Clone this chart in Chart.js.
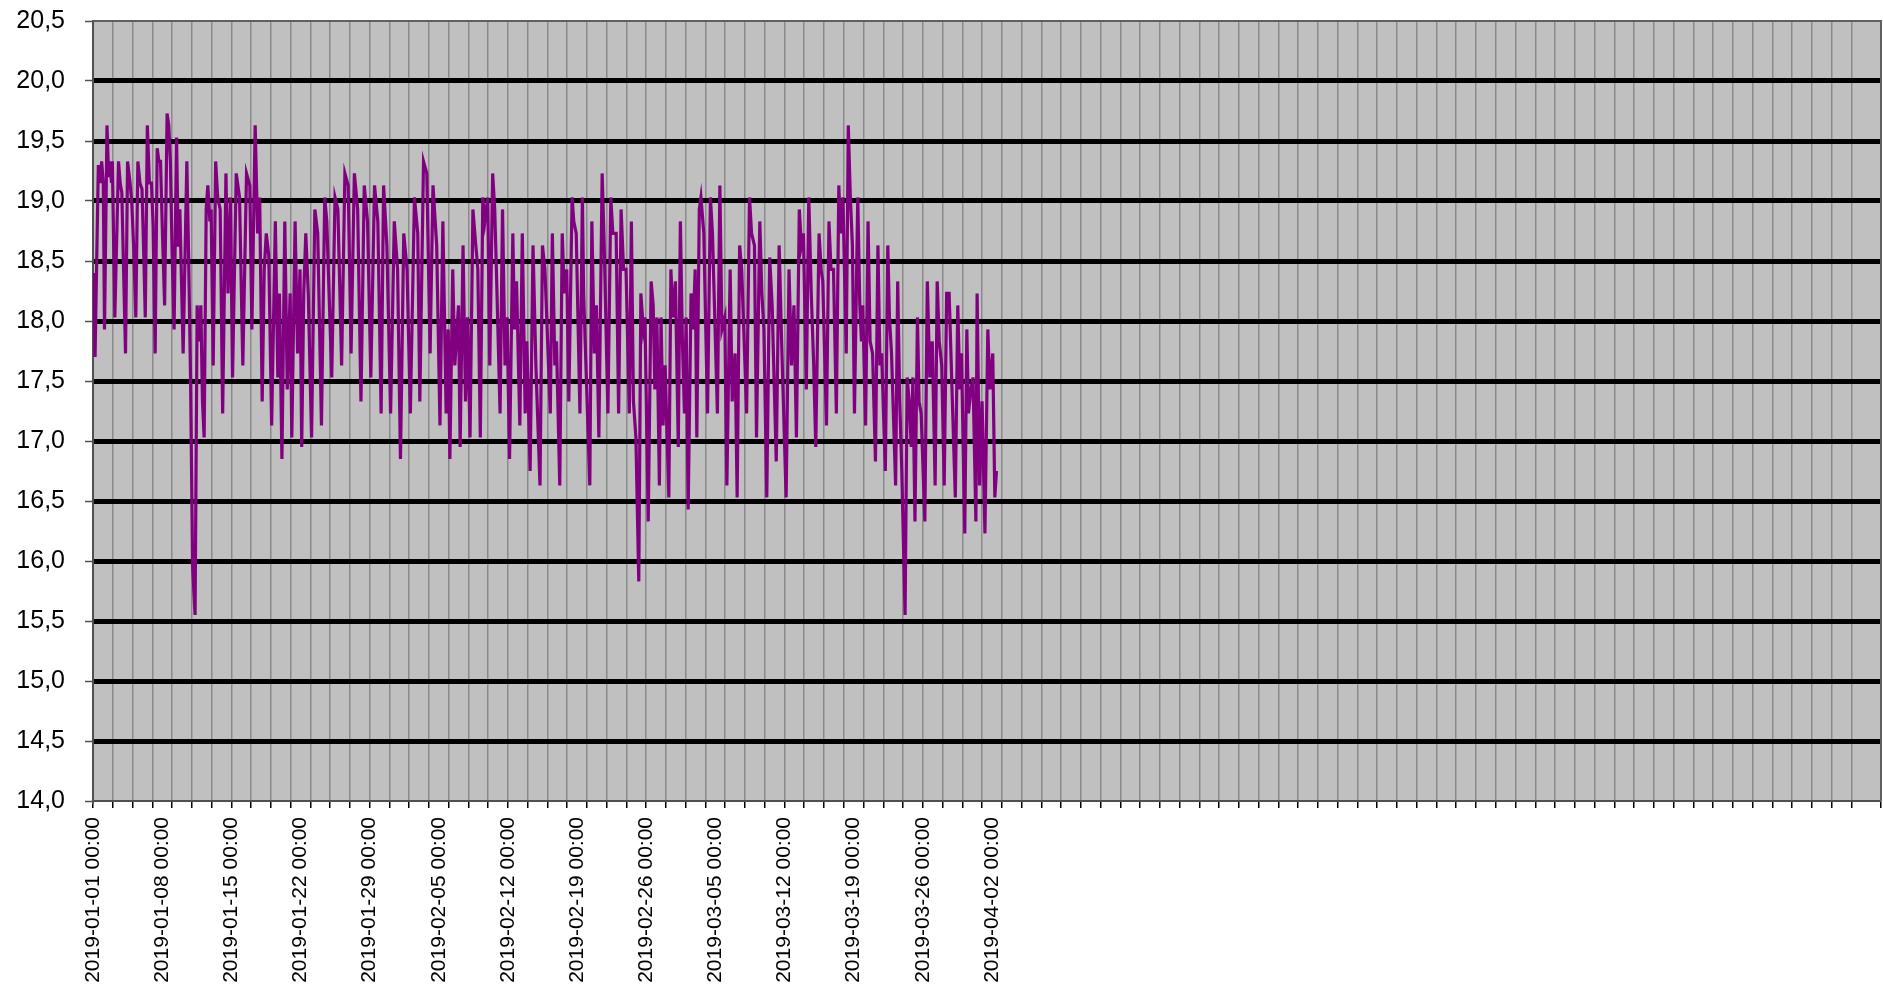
<!DOCTYPE html>
<html>
<head>
<meta charset="utf-8">
<script src="https://cdn.jsdelivr.net/npm/chart.js@4.4.1/dist/chart.umd.min.js"></script>
<style>
  html, body { margin: 0; padding: 0; background: #ffffff; }
  #wrap { width: 1883px; height: 987px; }
</style>
</head>
<body>
<div id="wrap"><canvas id="c" width="1883" height="987"></canvas></div>
<script>
// Hours since 2019-01-01 00:00 for each reading
const hours = [
  2,5,13,18,21,25,28,34,38,41,45,47,53,62,66,70,79,84,90,94,99,104,109,114,119,123,127,132,137,142,146,151,156,160,164,169,174,180,184,188,192,197,203,207,211,219,228,232,237,242,248,253,256,262,266,270,275,279,284,287,292,298,303,309,315,323,328,334,339,348,356,364,373,381,386,394,400,405,411,416,421,427,434,
  443,449,453,459,466,472,479,483,491,497,503,507,512,517,523,531,539,546,555,563,568,580,588,595,604,612,620,627,635,643,651,659,667,675,684,692,700,706,714,723,732,740,747,755,763,771,781,789,794,803,811,819,826,835,843,850,858,863,867,874,
  879,888,892,899,905,910,916,923,930,935,941,947,952,959,964,971,976,980,989,995,1001,1006,1012,1020,1024,1029,1037,1043,1050,1054,1062,1069,1076,1086,1092,1098,1111,1116,1122,1126,1134,1140,1145,1151,1156,1164,1168,1174,1183,1189,1192,1207,1212,1218,1223,1229,1237,1242,1251,1258,1263,1271,1277,1283,1289,1295,1303,1308,
  1313,1319,1326,1331,1337,1341,1349,1356,1361,1365,1370,1376,1380,1385,1390,1399,1404,1409,1415,1422,1427,1432,1437,1441,1446,1453,1458,1463,1467,1473,1477,1484,1493,1500,1505,1517,1523,1528,1535,1540,1548,1553,1560,1565,1571,1576,1588,1595,1600,1607,1612,1620,1625,1630,1637,1644,1650,1660,1667,1673,1684,1691,1697,1703,1709,1716,1721,1726,1733,1739,1745,
  1751,1756,1764,1769,1773,1782,1788,1793,1799,1806,1812,1816,1822,1830,1835,1840,1845,1850,1858,1863,1867,1870,1877,1883,1888,1894,1901,1907,1912,1916,1925,1931,1935,1940,1950,1955,1960,1965,1973,1978,1983,1988,1992,1997,2003,2007,2012,2021,2027,2033,2039,2046,2051,2056,2062,2068,2074,2080,2087,2095,2101,2106,2110,2118,2123,2127,2133,2138,2145,2148,2154,2160,2167,2174,2179,2186,2191,2195
];
// Temperature readings
const temps = [
  18.4,17.7,19.3,19.15,19.33,19.15,17.93,19.63,19.2,19.33,19.15,19.33,18.03,19.33,19.15,19.07,17.73,19.33,19.15,19.0,18.6,18.03,19.33,19.15,19.1,18.6,18.03,19.63,19.15,19.15,18.8,17.73,19.44,19.33,19.33,18.7,18.13,19.73,19.63,19.33,18.6,17.93,19.53,18.62,18.93,17.73,19.33,18.6,17.53,15.95,15.55,18.13,17.83,18.13,17.33,17.03,18.93,19.13,18.83,18.93,17.63,19.33,19.03,18.93,17.23,19.23,18.23,19.03,17.53,19.23,19.03,17.63,19.23,19.13,17.93,19.63,18.73,19.03,17.33,18.43,18.73,18.55,17.13,
  18.83,17.53,18.23,16.85,18.83,17.43,18.23,17.03,18.83,17.73,18.43,16.95,18.23,18.73,18.23,17.03,18.93,18.73,17.13,19.03,18.83,17.53,19.03,18.93,17.63,19.23,19.13,17.73,19.23,18.93,17.33,19.13,18.83,17.53,19.13,18.83,17.23,19.13,18.63,17.23,18.83,18.43,16.85,18.73,18.43,17.23,19.03,18.73,17.33,19.33,19.23,17.73,19.13,18.63,17.13,18.83,17.23,17.93,16.85,18.43,
  17.63,18.13,16.95,18.63,17.33,18.03,17.03,18.93,18.63,18.43,17.03,19.03,18.83,19.03,17.63,19.23,18.93,18.43,17.23,18.93,17.63,18.03,16.85,18.73,17.93,18.33,17.13,18.73,17.23,17.83,16.75,18.63,17.63,16.63,18.63,18.43,17.23,18.73,17.63,17.83,16.63,18.73,18.23,18.43,17.33,19.03,18.83,18.73,17.23,19.03,18.23,16.63,18.83,17.73,18.13,17.03,19.23,18.63,17.23,19.03,18.73,18.73,17.23,18.93,18.43,18.43,17.23,18.83,
  17.33,17.03,15.83,18.23,17.93,18.03,16.33,18.33,18.13,17.43,18.03,16.63,18.03,17.13,17.63,16.53,18.43,18.03,18.33,16.95,18.83,17.83,17.23,18.03,16.43,18.23,17.93,18.43,17.03,18.93,19.03,18.73,17.23,19.03,18.73,17.23,19.13,17.93,18.03,16.63,18.43,17.33,17.73,16.53,18.63,18.43,17.23,19.03,18.73,18.63,17.03,18.83,18.23,17.93,16.53,18.53,18.13,16.83,18.63,17.83,16.53,18.43,17.63,18.13,17.03,18.93,18.63,18.73,17.43,19.03,18.23,
  17.63,16.95,18.73,18.43,18.33,17.13,18.83,18.43,18.43,17.23,19.13,18.73,19.03,17.73,19.63,19.03,18.63,17.23,19.03,18.13,17.83,18.13,17.13,18.83,17.83,17.73,16.83,18.63,17.63,17.73,16.75,18.63,18.03,17.73,16.63,18.33,17.33,16.75,15.55,17.53,17.33,16.95,17.53,16.33,18.03,17.33,17.23,16.33,18.33,17.53,17.83,16.63,18.33,17.83,17.63,16.63,18.23,18.23,17.43,16.53,18.13,17.43,17.73,16.23,17.93,17.23,17.43,17.53,16.33,18.23,16.63,17.33,16.23,17.93,17.43,17.73,16.53,16.75
];
// Category axis: day offsets of labelled ticks and their labels
const xTickDays = [0,7,14,21,28,35,42,49,56,63,70,77,84,91];
const xTickLabels = [
  "2019-01-01 00:00","2019-01-08 00:00","2019-01-15 00:00","2019-01-22 00:00",
  "2019-01-29 00:00","2019-02-05 00:00","2019-02-12 00:00","2019-02-19 00:00",
  "2019-02-26 00:00","2019-03-05 00:00","2019-03-12 00:00","2019-03-19 00:00",
  "2019-03-26 00:00","2019-04-02 00:00"
];
const xRangeDays = [0, 181];
const xGridEveryDays = 2;
const yRange = [14, 20.5];
const yStep = 0.5;

const points = hours.map((h, i) => ({ x: h / 24, y: temps[i] }));

const plotBg = {
  id: 'plotBg',
  beforeDraw(chart) {
    const { ctx, chartArea: a } = chart;
    ctx.save();
    ctx.fillStyle = '#c0c0c0';
    ctx.fillRect(a.left, a.top, a.right - a.left, a.bottom - a.top);
    ctx.restore();
  },
  afterDatasetsDraw(chart) {
    const { ctx, chartArea: a } = chart;
    ctx.save();
    ctx.strokeStyle = '#606060';
    ctx.lineWidth = 2;
    ctx.beginPath();
    ctx.moveTo(a.left, a.top);
    ctx.lineTo(a.right, a.top);
    ctx.lineTo(a.right, a.bottom);
    ctx.stroke();
    ctx.restore();
  }
};

new Chart(document.getElementById('c'), {
  type: 'line',
  data: {
    datasets: [{
      xAxisID: 'x',
      data: points,
      borderColor: '#800080',
      borderWidth: 3.2,
      pointRadius: 0,
      tension: 0,
      fill: false
    }]
  },
  options: {
    responsive: false,
    animation: false,
    devicePixelRatio: 1,
    layout: { padding: { top: 21, right: 2, left: 0, bottom: 0 } },
    plugins: { legend: { display: false }, tooltip: { enabled: false } },
    scales: {
      x: {
        type: 'linear',
        position: 'bottom',
        weight: 0,
        min: xRangeDays[0],
        max: xRangeDays[1],
        afterFit(scale) { scale.height = 7; },
        ticks: { stepSize: xGridEveryDays, display: false, autoSkip: false },
        grid: {
          color: '#8a8a8a',
          tickColor: '#000',
          lineWidth: 1.5,
          tickWidth: 1.5,
          tickLength: 7
        },
        border: { color: '#505050', width: 2 }
      },
      xLabels: {
        type: 'linear',
        position: 'bottom',
        weight: 1,
        min: xRangeDays[0],
        max: xRangeDays[1],
        afterBuildTicks(axis) { axis.ticks = xTickDays.map(v => ({ value: v })); },
        afterFit(scale) { scale.height = 179; scale.paddingLeft = 0; scale.paddingRight = 0; },
        ticks: {
          autoSkip: false,
          maxRotation: 90,
          minRotation: 90,
          padding: 9,
          color: '#000',
          font: { family: 'Liberation Sans, Arial, sans-serif', size: 21 },
          callback(v) {
            const i = xTickDays.indexOf(v);
            return i >= 0 ? xTickLabels[i] : '';
          }
        },
        grid: { drawOnChartArea: false, drawTicks: false },
        border: { display: false }
      },
      y: {
        type: 'linear',
        min: yRange[0],
        max: yRange[1],
        afterFit(scale) { scale.width = 93; scale.paddingTop = 0; scale.paddingBottom = 0; },
        ticks: {
          stepSize: yStep,
          padding: 20,
          color: '#000',
          font: { family: 'Liberation Sans, Arial, sans-serif', size: 25 },
          callback: v => v.toFixed(1).replace('.', ',')
        },
        grid: {
          color: c => (c.tick && (c.tick.value === yRange[0] || c.tick.value === yRange[1])) ? 'rgba(0,0,0,0)' : '#000',
          lineWidth: 5,
          tickColor: '#505050',
          tickWidth: 1.5,
          tickLength: 8
        },
        border: { color: '#505050', width: 2 }
      }
    }
  },
  plugins: [plotBg]
});
</script>
</body>
</html>
